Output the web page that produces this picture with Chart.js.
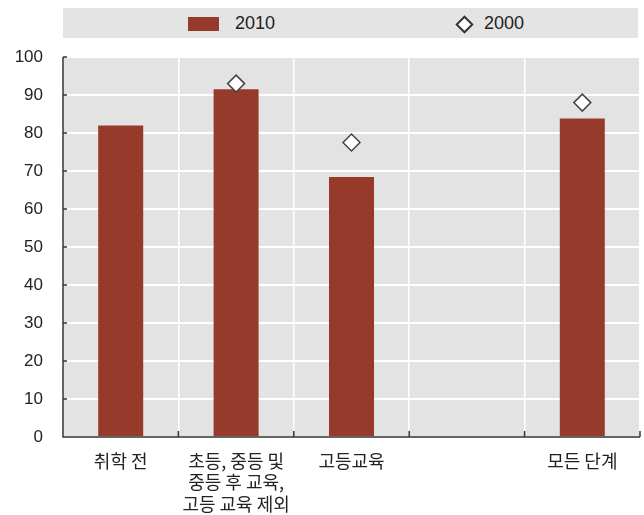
<!DOCTYPE html>
<html>
<head>
<meta charset="utf-8">
<script src="https://cdn.jsdelivr.net/npm/chart.js@4.4.0/dist/chart.umd.min.js"></script>
<style>
  body{margin:0;background:#fff;}
  #wrap{position:relative;width:644px;height:515px;}
  #legend{position:absolute;left:63px;top:8px;width:575px;height:30px;background:#e4e4e4;
    font-family:"Liberation Sans",Arial,sans-serif;font-size:18px;color:#222;}
  .lg{position:absolute;top:0;height:30px;line-height:30px;}
  .sw{position:absolute;left:125px;top:9px;width:31px;height:14px;background:#963b2b;}
  .dm{position:absolute;left:395px;top:10px;width:9px;height:9px;background:#fff;border:2px solid #333;transform:rotate(45deg);}
</style>
</head>
<body>
<div id="wrap">
  <canvas id="c" width="644" height="515"></canvas>
  <div id="legend">
    <span class="sw"></span><span class="lg" style="left:172px">2010</span>
    <span class="dm"></span><span class="lg" style="left:421px">2000</span>
  </div>
</div>
<script>
// categories and values
const categories = [
  '취학 전',
  ['초등, 중등 및', '중등 후 교육,', '고등 교육 제외'],
  '고등교육',
  '',
  '모든 단계'
];
const values2010 = [82, 91.5, 68.4, null, 83.8];
const values2000 = [null, 93, 77.5, null, 88];
const yTicks = [0, 10, 20, 30, 40, 50, 60, 70, 80, 90, 100];

// grey plot background + inward tick marks and axis lines
const frame = {
  id:'frame',
  beforeDraw(chart){
    const a = chart.chartArea, ctx = chart.ctx;
    ctx.save();
    ctx.fillStyle = '#e3e3e3';
    ctx.fillRect(a.left, a.top, a.right-a.left, a.bottom-a.top);
    ctx.restore();
  },
  afterDatasetsDraw(chart){
    const a = chart.chartArea, ctx = chart.ctx;
    const x = chart.scales.x, y = chart.scales.y;
    ctx.save();
    ctx.strokeStyle = '#333';
    ctx.lineWidth = 1.5;
    ctx.beginPath();
    ctx.moveTo(a.left, a.top); ctx.lineTo(a.left, a.bottom); ctx.lineTo(a.right, a.bottom);
    yTicks.forEach(v=>{ const py = y.getPixelForValue(v); ctx.moveTo(a.left, py); ctx.lineTo(a.left+4, py); });
    const step = x.getPixelForValue(1) - x.getPixelForValue(0);
    for(let i=0;i<=categories.length;i++){
      const px = i<categories.length ? x.getPixelForValue(i) - step/2 : a.right;
      ctx.moveTo(px, a.bottom); ctx.lineTo(px, a.bottom-6);
    }
    ctx.stroke();
    ctx.restore();
  }
};

new Chart(document.getElementById('c'), {
  data:{
    labels: categories,
    datasets:[
      {type:'bar', label:'2010', data:values2010, backgroundColor:'#963b2b',
        categoryPercentage:1, barPercentage:0.39, order:2},
      {type:'line', label:'2000', data:values2000, showLine:false, order:1,
        pointStyle:'rectRot', pointRadius:8.5, pointBackgroundColor:'#fff',
        pointBorderColor:'#444', pointBorderWidth:1.5}
    ]
  },
  plugins:[frame],
  options:{
    responsive:false,
    animation:false,
    layout:{autoPadding:false, padding:{top:57, right:4, left:0, bottom:0}},
    plugins:{legend:{display:false}, tooltip:{enabled:false}},
    scales:{
      x:{
        offset:true,
        grid:{color:'#fff', lineWidth:1.5, drawTicks:false, offset:true},
        border:{display:false},
        ticks:{color:'#222', padding:13, maxRotation:0, autoSkip:false,
          font:{family:'"Noto Sans CJK KR", sans-serif', size:18, lineHeight:1.2}},
        afterFit(s){ s.height = 78; s.paddingLeft = 0; s.paddingRight = 0; }
      },
      y:{
        min:0, max:100,
        grid:{color:'#fff', lineWidth:2, drawTicks:false},
        border:{display:false},
        ticks:{stepSize:10, color:'#222', padding:20,
          font:{family:'"Liberation Sans", Arial, sans-serif', size:17}},
        afterFit(s){ s.width = 63; }
      }
    }
  }
});
</script>
</body>
</html>
